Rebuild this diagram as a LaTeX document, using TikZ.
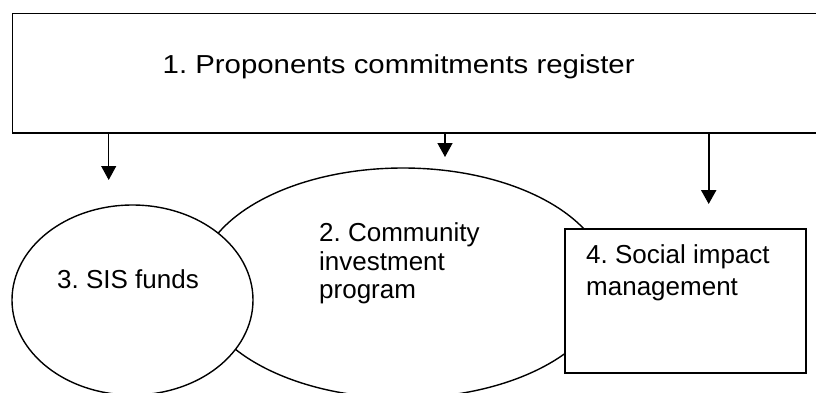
\documentclass[tikz,border=0pt]{standalone}
\usepackage{fontspec}
\setmainfont{Liberation Sans}
\newfontfamily\titlefont[FakeStretch=1.13]{Liberation Sans}
\usetikzlibrary{arrows.meta,shapes.geometric}
\frenchspacing

\begin{document}
\begin{tikzpicture}[x=1pt,y=-1pt,
  outline/.style={draw=black, fill=white, line width=1.4pt, inner sep=0pt},
  lbl/.style={anchor=base west, inner sep=0pt, align=left},
  feed/.style={draw=black, -{Triangle[length=14pt,width=15pt]}},
]
\useasboundingbox (0,0) rectangle (816,392);
\clip (0,0) rectangle (816,392);
\fill[white] (0,0) rectangle (816,392);

% component shapes, back to front
\node[outline, ellipse, minimum width=410pt, minimum height=230pt] (cip) at (403,283) {};
\node[outline, ellipse, minimum width=241pt, minimum height=190pt] (sis) at (132.5,300) {};
\node[outline, rectangle, line width=2pt, minimum width=240.7pt, minimum height=143.4pt] (sim) at (685.35,301) {};
\node[outline, rectangle, line width=1.6pt, minimum width=837.7pt, minimum height=119.7pt] (reg) at (431.15,73.15) {};

% labels (the base of a multi-line label is its last line)
\node[lbl, font=\fontsize{26}{30}\selectfont] (reglbl) at (162.5,73.3) {\titlefont 1. Proponents commitments register};
\node[lbl, font=\fontsize{26}{28.3}\selectfont] (ciplbl) at (319,298.3) {2. Community\\investment\\program};
\node[lbl, font=\fontsize{26}{30}\selectfont] (sislbl) at (57,288.3) {3. SIS funds};
\node[lbl, font=\fontsize{26}{31.7}\selectfont] (simlbl) at (586,295) {4. Social impact\\management};

% free ends of the feed arrows
\coordinate (tipsis) at (108.7,180);
\coordinate (tipcip) at (445,157);
\coordinate (tipsim) at (708.7,204);

\draw[feed, line width=1pt] (reg.south -| tipsis) -- (tipsis);
\draw[feed, line width=1.4pt] (reg.south -| tipcip) -- (tipcip);
\draw[feed, line width=2.2pt] (reg.south -| tipsim) -- (tipsim);
\end{tikzpicture}
\end{document}
